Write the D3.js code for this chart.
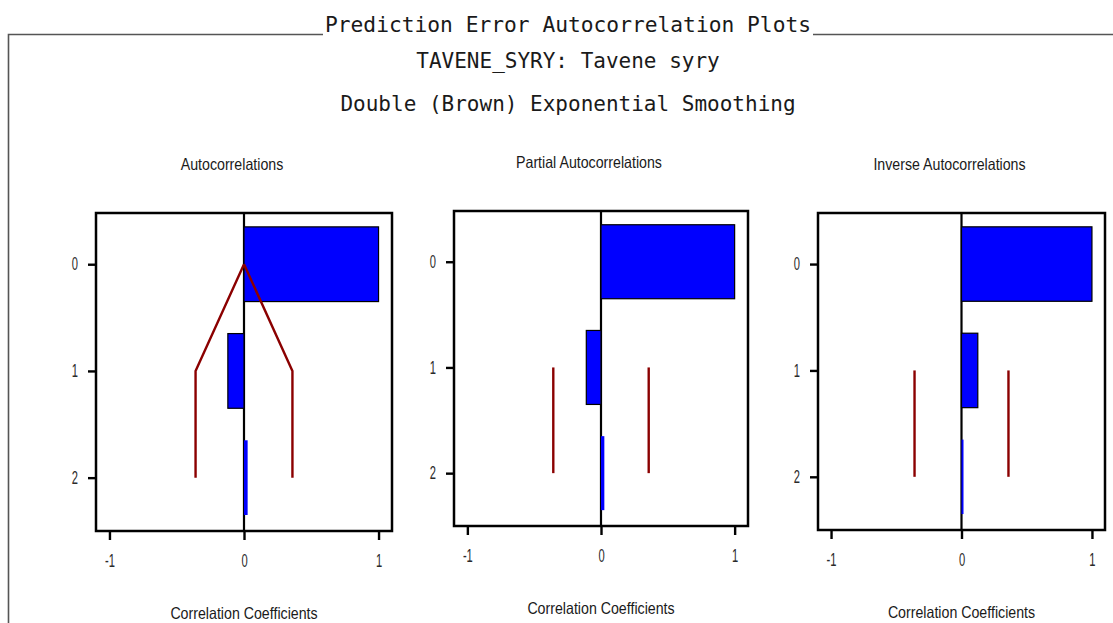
<!DOCTYPE html>
<html>
<head>
<meta charset="utf-8">
<script src="https://cdn.jsdelivr.net/npm/d3@7"></script>
<style>
  body { margin: 0; background: #fff; }
  svg { display: block; }
</style>
</head>
<body>
<div class="canvas"></div>
<script>
// ---- data ----
const lags = [0, 1, 2];
const xTicks = [-1, 0, 1];

const acfValues  = [1.0, -0.12, 0.027];
const pacfValues = [1.0, -0.11, 0.025];
const iacfValues = [1.0, 0.125, 0.004];

// two standard error limits (null = not drawn at that lag)
const acfLimits  = [0, 0.36, 0.36];
const pacfLimits = [null, 0.357, 0.357];
const iacfLimits = [null, 0.36, 0.36];

const panelTitles = ['Autocorrelations', 'Partial Autocorrelations', 'Inverse Autocorrelations'];
const xLabel = 'Correlation Coefficients';

const mainTitle = 'Prediction Error Autocorrelation Plots';
const subTitles = ['TAVENE_SYRY: Tavene syry', 'Double (Brown) Exponential Smoothing'];

// ---- layout ----
const dims = {'width': 1113, 'height': 623};
const boxes = [
  {'x0': 96,  'y0': 213, 'x1': 392,  'y1': 531},
  {'x0': 454, 'y0': 211, 'x1': 748,  'y1': 526},
  {'x0': 818, 'y0': 213, 'x1': 1105, 'y1': 530}
];
const panels = [
  {title: panelTitles[0], values: acfValues,  limits: acfLimits},
  {title: panelTitles[1], values: pacfValues, limits: pacfLimits},
  {title: panelTitles[2], values: iacfValues, limits: iacfLimits}
];

const svg = d3.select('.canvas')
  .append('svg')
  .attr('width', dims.width)
  .attr('height', dims.height);

// squeeze sans text so it looks like the narrow font of the original
const narrow = (sel, factor) => {
  sel.each(function() {
    const len = this.getComputedTextLength();
    d3.select(this).attr('textLength', len * factor).attr('lengthAdjust', 'spacingAndGlyphs');
  });
};

// outer frame with title gap
svg.append('path')
  .attr('d', 'M8.5,623 V34.5 H323 M813,34.5 H1113')
  .attr('fill', 'none')
  .attr('stroke', '#555')
  .attr('stroke-width', 1.6);

const mono = "'DejaVu Sans Mono', monospace";
svg.append('text')
  .attr('x', 568).attr('y', 32)
  .attr('text-anchor', 'middle')
  .attr('font-family', mono).attr('font-size', 21)
  .attr('fill', '#1a1a1a')
  .attr('textLength', 486).attr('lengthAdjust', 'spacingAndGlyphs')
  .text(mainTitle);

svg.selectAll('text.sub')
  .data(subTitles)
  .enter().append('text')
  .attr('class', 'sub')
  .attr('x', 568)
  .attr('y', (d, i) => i === 0 ? 68 : 111)
  .attr('text-anchor', 'middle')
  .attr('font-family', mono).attr('font-size', 21)
  .attr('fill', '#1a1a1a')
  .text(d => d);

const sans = "'Liberation Sans', Arial, sans-serif";
const limitLine = d3.line()
  .defined(d => d.v !== null);

panels.forEach((p, i) => {
  const b = boxes[i];
  const x = d3.scaleLinear().domain([-1.1, 1.1]).range([b.x0, b.x1]);
  const y = d3.scaleLinear().domain([-0.48, 2.5]).range([b.y0, b.y1]);
  const g = svg.append('g');

  // panel background
  g.append('rect')
    .attr('x', b.x0).attr('y', b.y0)
    .attr('width', b.x1 - b.x0).attr('height', b.y1 - b.y0)
    .attr('fill', '#fff');

  // zero line
  g.append('line')
    .attr('x1', x(0)).attr('x2', x(0))
    .attr('y1', b.y0).attr('y2', b.y1)
    .attr('stroke', '#000').attr('stroke-width', 2.2);

  // bars
  const data = lags.map((l, k) => ({lag: l, v: p.values[k]}));
  g.selectAll('rect.bar')
    .data(data)
    .enter().append('rect')
    .attr('class', 'bar')
    .attr('x', d => x(Math.min(0, d.v)))
    .attr('width', d => Math.max(2, Math.abs(x(d.v) - x(0))))
    .attr('y', d => y(d.lag - 0.35))
    .attr('height', d => y(d.lag + 0.35) - y(d.lag - 0.35))
    .attr('fill', '#0000ff')
    .attr('stroke', d => Math.abs(x(d.v) - x(0)) > 6 ? '#000' : 'none')
    .attr('stroke-width', 1.2);

  // confidence limits, both sides
  [1, -1].forEach(sgn => {
    const pts = lags.map((l, k) => ({lag: l, v: p.limits[k]}));
    g.append('path')
      .attr('d', limitLine.x(d => x(sgn * d.v)).y(d => y(d.lag))(pts))
      .attr('fill', 'none')
      .attr('stroke', '#8b0000')
      .attr('stroke-width', 2.4);
  });

  // frame
  g.append('rect')
    .attr('x', b.x0).attr('y', b.y0)
    .attr('width', b.x1 - b.x0).attr('height', b.y1 - b.y0)
    .attr('fill', 'none')
    .attr('stroke', '#000').attr('stroke-width', 2.5);

  // axes
  const yAxis = d3.axisLeft(y).tickValues(lags).tickSize(8).tickPadding(10).tickFormat(d3.format('d'));
  const xAxis = d3.axisBottom(x).tickValues(xTicks).tickSize(9).tickPadding(14).tickFormat(d3.format('d'));

  const yAxisGroup = g.append('g').attr('transform', `translate(${b.x0},0)`).call(yAxis);
  const xAxisGroup = g.append('g').attr('transform', `translate(0,${b.y1})`).call(xAxis);

  xAxisGroup.selectAll('.tick text').text(d => d < 0 ? '-' + Math.abs(d) : d);
  [yAxisGroup, xAxisGroup].forEach(ag => {
    ag.select('.domain').remove();
    ag.selectAll('.tick line').attr('stroke', '#000').attr('stroke-width', 2.4);
    ag.selectAll('.tick text')
      .attr('font-family', sans).attr('font-size', 18)
      .attr('fill', '#2a2a2a')
      .call(narrow, 0.62);
  });

  // panel title and x label
  g.append('text')
    .attr('x', (b.x0 + b.x1) / 2 - 12).attr('y', b.y0 - 43)
    .attr('text-anchor', 'middle')
    .attr('font-family', sans).attr('font-size', 16.5)
    .attr('fill', '#1a1a1a')
    .text(p.title)
    .call(narrow, 0.86);

  g.append('text')
    .attr('x', x(0)).attr('y', b.y1 + 88)
    .attr('text-anchor', 'middle')
    .attr('font-family', sans).attr('font-size', 16.5)
    .attr('fill', '#1a1a1a')
    .text(xLabel)
    .call(narrow, 0.86);
});
</script>
</body>
</html>
